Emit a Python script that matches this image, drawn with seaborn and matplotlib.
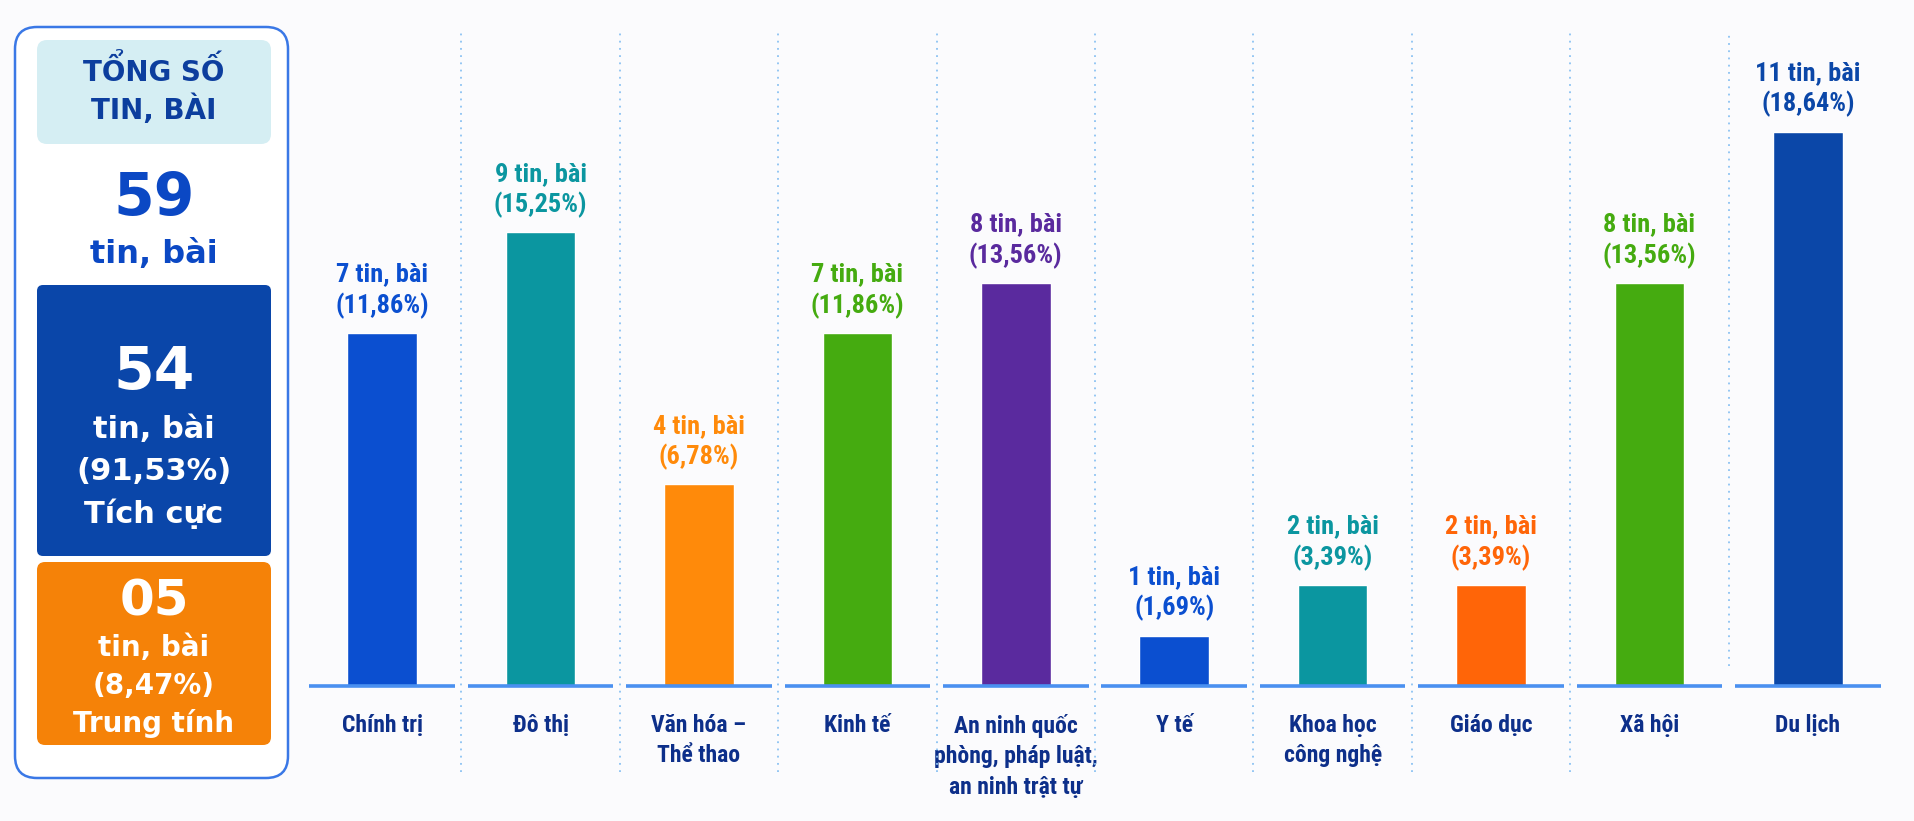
import matplotlib
matplotlib.use("Agg")
import matplotlib.pyplot as plt
from matplotlib import font_manager as fm
from matplotlib.patches import FancyBboxPatch
import seaborn as sns
import pandas as pd

# ---------------- data ----------------
CATEGORIES = ["Chính trị", "Đô thị", "Văn hóa –\nThể thao", "Kinh tế",
              "An ninh quốc\nphòng, pháp luật,\nan ninh trật tự", "Y tế",
              "Khoa học\ncông nghệ", "Giáo dục", "Xã hội", "Du lịch"]
COUNTS = [7, 9, 4, 7, 8, 1, 2, 2, 8, 11]
PERCENTS = [11.86, 15.25, 6.78, 11.86, 13.56, 1.69, 3.39, 3.39, 13.56, 18.64]
BAR_COLORS = ["#0B4FD0", "#0B96A0", "#FF8A0A", "#45AB10", "#5A2A9E",
              "#0B4FD0", "#0B96A0", "#FF6508", "#45AB10", "#0B47A8"]
TOTAL = 59
POSITIVE = 54
POSITIVE_PCT = "91,53%"
NEUTRAL = "05"
NEUTRAL_PCT = "8,47%"

# ---------------- fonts ----------------
sns.set_theme(style="white")
names = {f.name for f in fm.fontManager.ttflist}
narrow = "DejaVu Sans"
for cand in ["Liberation Sans Narrow", "Roboto Condensed", "Open Sans Condensed",
             "Carlito", "Lato"]:
    if cand in names:
        narrow = cand
        break
NARROW = [narrow, "DejaVu Sans"]
WIDE = ["DejaVu Sans"]
plt.rcParams["font.family"] = NARROW

BG = "#FBFBFD"
W, H = 1915, 821
fig = plt.figure(figsize=(W / 100, H / 100), dpi=100, facecolor=BG)

# ---------------- main bar chart ----------------
base_px = 686
px_per_unit = 50.4
ymax = 13
ax = fig.add_axes([303 / W, (H - base_px) / H, 1584 / W, ymax * px_per_unit / H])
ax.set_facecolor("none")

df = pd.DataFrame({"category": CATEGORIES, "count": COUNTS})
sns.barplot(data=df, x="category", y="count", hue="category",
            palette=BAR_COLORS, legend=False, width=0.44, saturation=1,
            ax=ax, zorder=3)
ax.set_xlim(-0.5, len(CATEGORIES) - 0.5)
ax.set_ylim(0, ymax)
for s in ax.spines.values():
    s.set_visible(False)
ax.set_yticks([])
ax.set_xlabel("")
ax.set_ylabel("")
ax.tick_params(axis="x", length=0, pad=20)
for lbl in ax.get_xticklabels():
    lbl.set_fontsize(17)
    lbl.set_fontweight("bold")
    lbl.set_color("#0D2F8A")
    lbl.set_linespacing(1.42)
    lbl.set_family(NARROW)

# baseline segments
gap = 0.04
for i in range(len(CATEGORIES)):
    ax.hlines(0, i - 0.5 + gap, i + 0.5 - gap, color="#4A90F0", lw=2.6,
              zorder=4, clip_on=False)

# dotted separators
n = len(CATEGORIES)
for i in range(n - 1):
    bottom = -1.71 if i < n - 2 else 0.4
    ax.vlines(i + 0.5, bottom, 12.96, color="#8CC2F2", lw=1.3,
              linestyles=(0, (1, 3)), clip_on=False, zorder=1)

# value labels
for i, (c, p, col) in enumerate(zip(COUNTS, PERCENTS, BAR_COLORS)):
    txt = f"{c} tin, bài\n({p:.2f}%)".replace(".", ",")
    ax.text(i, c + 0.28, txt, ha="center", va="bottom", color=col,
            fontsize=19, fontweight="bold", linespacing=1.3, family=NARROW)

# ---------------- left summary panel ----------------
pax = fig.add_axes([0, 0, 1, 1], zorder=-1)
pax.set_xlim(0, W)
pax.set_ylim(H, 0)
pax.axis("off")
pax.set_facecolor("none")

def box(x, y, w, h, fc, ec="none", lw=0, r=8):
    pax.add_patch(FancyBboxPatch((x, y), w, h,
                                 boxstyle=f"round,pad=0,rounding_size={r}",
                                 fc=fc, ec=ec, lw=lw))

box(15, 27, 273, 751, "white", ec="#3A78E6", lw=1.8, r=22)
box(37, 40, 234, 104, "#D5EEF3", r=10)
box(37, 285, 234, 271, "#0A46A9", r=6)
box(37, 562, 234, 183, "#F58208", r=8)

cx = 154
pax.text(cx, 90, "TỔNG SỐ\nTIN, BÀI", ha="center", va="center", fontsize=20,
         fontweight="bold", color="#0C3E9E", family=WIDE, linespacing=1.3)
pax.text(cx, 198, str(TOTAL), ha="center", va="center", fontsize=42,
         fontweight="bold", color="#0B48C4", family=WIDE)
pax.text(cx, 254, "tin, bài", ha="center", va="center", fontsize=23,
         fontweight="bold", color="#0B48C4", family=WIDE)

pax.text(cx, 372, str(POSITIVE), ha="center", va="center", fontsize=42,
         fontweight="bold", color="white", family=WIDE)
for y, t in [(430, "tin, bài"), (472, f"({POSITIVE_PCT})"), (514, "Tích cực")]:
    pax.text(cx, y, t, ha="center", va="center", fontsize=22,
             fontweight="bold", color="white", family=WIDE)

pax.text(cx, 601, NEUTRAL, ha="center", va="center", fontsize=36,
         fontweight="bold", color="white", family=WIDE)
for y, t in [(648, "tin, bài"), (686, f"({NEUTRAL_PCT})"), (723, "Trung tính")]:
    pax.text(cx, y, t, ha="center", va="center", fontsize=20,
             fontweight="bold", color="white", family=WIDE)

fig.savefig("out.png", dpi=100, facecolor=BG)
